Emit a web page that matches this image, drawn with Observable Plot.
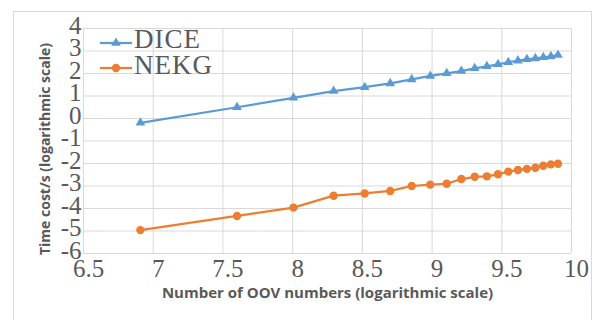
<!DOCTYPE html>
<html><head><meta charset="utf-8">
<script src="https://cdn.jsdelivr.net/npm/d3@7"></script>
<script src="https://cdn.jsdelivr.net/npm/@observablehq/plot@0.6"></script>
<style>
body{margin:0;background:#fff;}
#wrap{position:relative;width:598px;height:320px;overflow:hidden;background:#fff;}
#border{position:absolute;left:13px;top:11px;width:579px;height:340px;border:1px solid #d9d9d9;box-sizing:border-box;}
#chart{position:absolute;left:0;top:0;}
#legend{position:absolute;left:0;top:0;}
</style>
</head><body>
<div id="wrap"><div id="border"></div><div id="chart"></div>
<svg id="legend" width="598" height="320" font-family="Liberation Serif" font-size="27" fill="#595959">
  <line x1="100" x2="132" y1="43" y2="43" stroke="#5B9BD5" stroke-width="2.25"/>
  <path id="tri" fill="#5B9BD5"/>
  <text x="134" y="48" letter-spacing="1">DICE</text>
  <line x1="100" x2="132" y1="68" y2="68" stroke="#ED7D31" stroke-width="2.25"/>
  <circle cx="116" cy="68" r="4.2" fill="#ED7D31"/>
  <text x="134" y="74" letter-spacing="1">NEKG</text>
</svg>
</div>
<script>
// x: log of OOV numbers
const xValues = [6.908, 7.601, 8.006, 8.294, 8.517, 8.700, 8.854, 8.987, 9.105, 9.210,
                 9.306, 9.393, 9.473, 9.547, 9.616, 9.680, 9.741, 9.798, 9.852, 9.903];
const diceValues = [-0.19, 0.50, 0.92, 1.22, 1.39, 1.56, 1.74, 1.89, 2.01, 2.11,
                    2.23, 2.32, 2.41, 2.50, 2.57, 2.63, 2.67, 2.72, 2.76, 2.82];
const nekgValues = [-4.96, -4.33, -3.96, -3.43, -3.33, -3.22, -3.00, -2.94, -2.90, -2.69,
                    -2.59, -2.57, -2.48, -2.36, -2.29, -2.24, -2.19, -2.10, -2.04, -2.01];
const xTicks = [6.5, 7, 7.5, 8, 8.5, 9, 9.5, 10];
const yTicks = [-6, -5, -4, -3, -2, -1, 0, 1, 2, 3, 4];
const seriesNames = ["DICE", "NEKG"];
const xTitle = "Number of OOV numbers (logarithmic scale)";
const yTitle = "Time cost/s (logarithmic scale)";

const data = xValues.map((x, i) => ({x, dice: diceValues[i], nekg: nekgValues[i]}));
const tickFont = {fontSize: 25, fontFamily: "Liberation Serif", fill: "#595959"};
const titleFont = {fontFamily: "Open Sans", fontWeight: "bold", fill: "#595959"};

const chart = Plot.plot({
  width: 598, height: 320,
  marginLeft: 83, marginRight: 27, marginTop: 28, marginBottom: 67,
  x: {domain: [6.5, 10]},
  y: {domain: [-6, 4]},
  style: {background: "transparent", overflow: "visible"},
  marks: [
    Plot.gridX(xTicks, {stroke: "#d9d9d9", strokeOpacity: 1}),
    Plot.gridY(yTicks, {stroke: "#d9d9d9", strokeOpacity: 1}),
    Plot.axisX(xTicks, {tickSize: 0, tickPadding: 6, dx: 5, tickFormat: d => String(d), label: null, ...tickFont, style: "letter-spacing:3px"}),
    Plot.axisY(yTicks, {tickSize: 0, tickPadding: 2, dy: -3, tickFormat: d => String(d), label: null, ...tickFont}),
    Plot.line(data, {x: "x", y: "dice", stroke: "#5B9BD5", strokeWidth: 2.25}),
    Plot.dot(data, {x: "x", y: "dice", symbol: "triangle", r: 3.6, fill: "#5B9BD5", stroke: null}),
    Plot.line(data, {x: "x", y: "nekg", stroke: "#ED7D31", strokeWidth: 2.25}),
    Plot.dot(data, {x: "x", y: "nekg", r: 4.2, fill: "#ED7D31", stroke: null}),
    Plot.text([yTitle], {text: d => d, frameAnchor: "left", textAnchor: "middle", dx: -38, dy: 8, rotate: -90, fontSize: 14, ...titleFont}),
    Plot.text([xTitle], {text: d => d, frameAnchor: "bottom", dy: 44, fontSize: 15, ...titleFont})
  ]
});
document.getElementById("chart").appendChild(chart);
// legend triangle symbol
document.getElementById("tri").setAttribute("d", d3.symbol(d3.symbolTriangle, Math.PI * 3.6 * 3.6)());
document.getElementById("tri").setAttribute("transform", "translate(116,43)");
document.querySelectorAll("#legend text")[0].textContent = seriesNames[0];
document.querySelectorAll("#legend text")[1].textContent = seriesNames[1];
</script>
</body></html>
